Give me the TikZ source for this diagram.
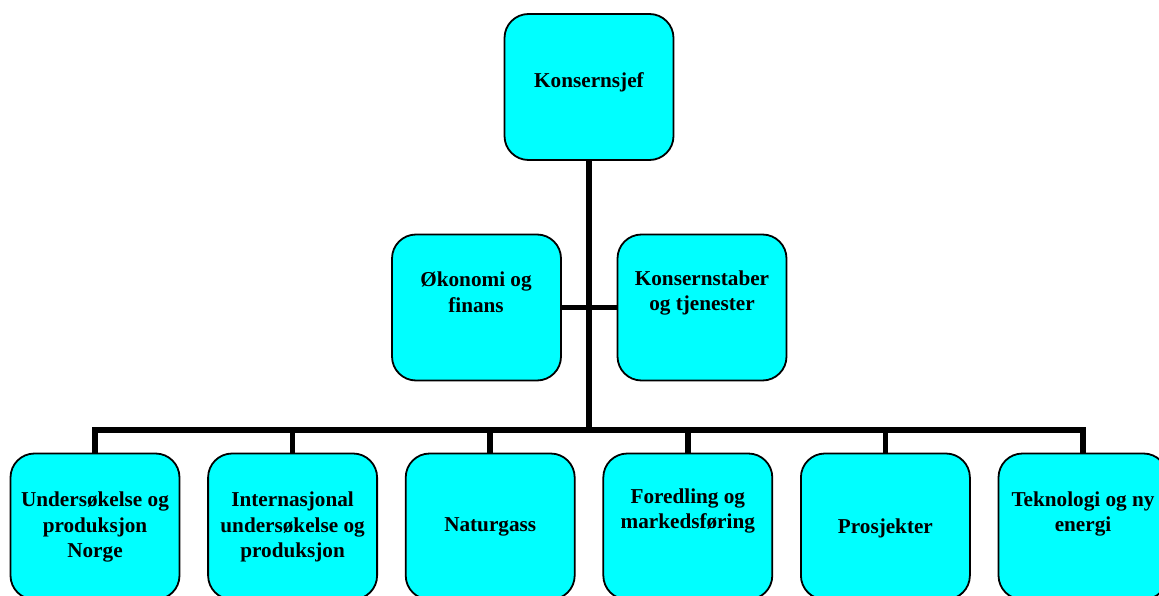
\documentclass[tikz,border=0pt]{standalone}
\usepackage{fontspec}
\setmainfont{Liberation Serif}
\definecolor{boxcyan}{RGB}{0,255,255}
\begin{document}
\begin{tikzpicture}[x=1pt,y=-1pt,
  box/.style={draw=black,line width=1.8pt,fill=boxcyan,rounded corners=24pt,
    minimum width=169pt,minimum height=146pt,inner sep=0pt,outer sep=0pt},
  lbl/.style={align=center,inner sep=0pt,
    font=\bfseries\fontsize{21.2}{25.5}\selectfont},
  conn/.style={draw=black,line width=5.6pt,line join=miter}]
\useasboundingbox (0,0) rectangle (1159,596);
\clip (0,0) rectangle (1159,596);

% boxes
\node[box] (top) at (589,87) {};
\node[box] (m1) at (476.5,307.5) {};
\node[box] (m2) at (702,307.5) {};
\foreach \i in {1,...,6}
  \node[box] (b\i) at ({95+197.6*(\i-1)},526.5) {};

% connectors
\coordinate (bus) at (589,430);
\draw[conn] (top.south) -- (bus);
\draw[conn] (m1.east) -- (m2.west);
\draw[conn] (b1.north) |- (bus) -| (b6.north);
\foreach \i in {2,...,5}
  \draw[conn] (b\i.north) -- (b\i.north |- bus);

% labels
\node[lbl] (ttop) at (589,82) {Konsernsjef};
\node[lbl] (tm1) at (476,292) {Økonomi og\\finans};
\node[lbl] (tm2) at (702,293) {Konsernstaber\\og tjenester};
\node[lbl] (tb1) at (b1 |- 0,527) {Undersøkelse og\\produksjon\\Norge};
\node[lbl] (tb2) at (b2 |- 0,527) {Internasjonal\\undersøkelse og\\produksjon};
\node[lbl] (tb3) at (b3 |- 0,527) {Naturgass};
\node[lbl] (tb4) at (b4 |- 0,511) {Foredling og\\markedsføring};
\node[lbl] (tb5) at (b5 |- 0,528) {Prosjekter};
\node[lbl] (tb6) at (b6 |- 0,514) {Teknologi og ny\\energi};
\end{tikzpicture}
\end{document}
